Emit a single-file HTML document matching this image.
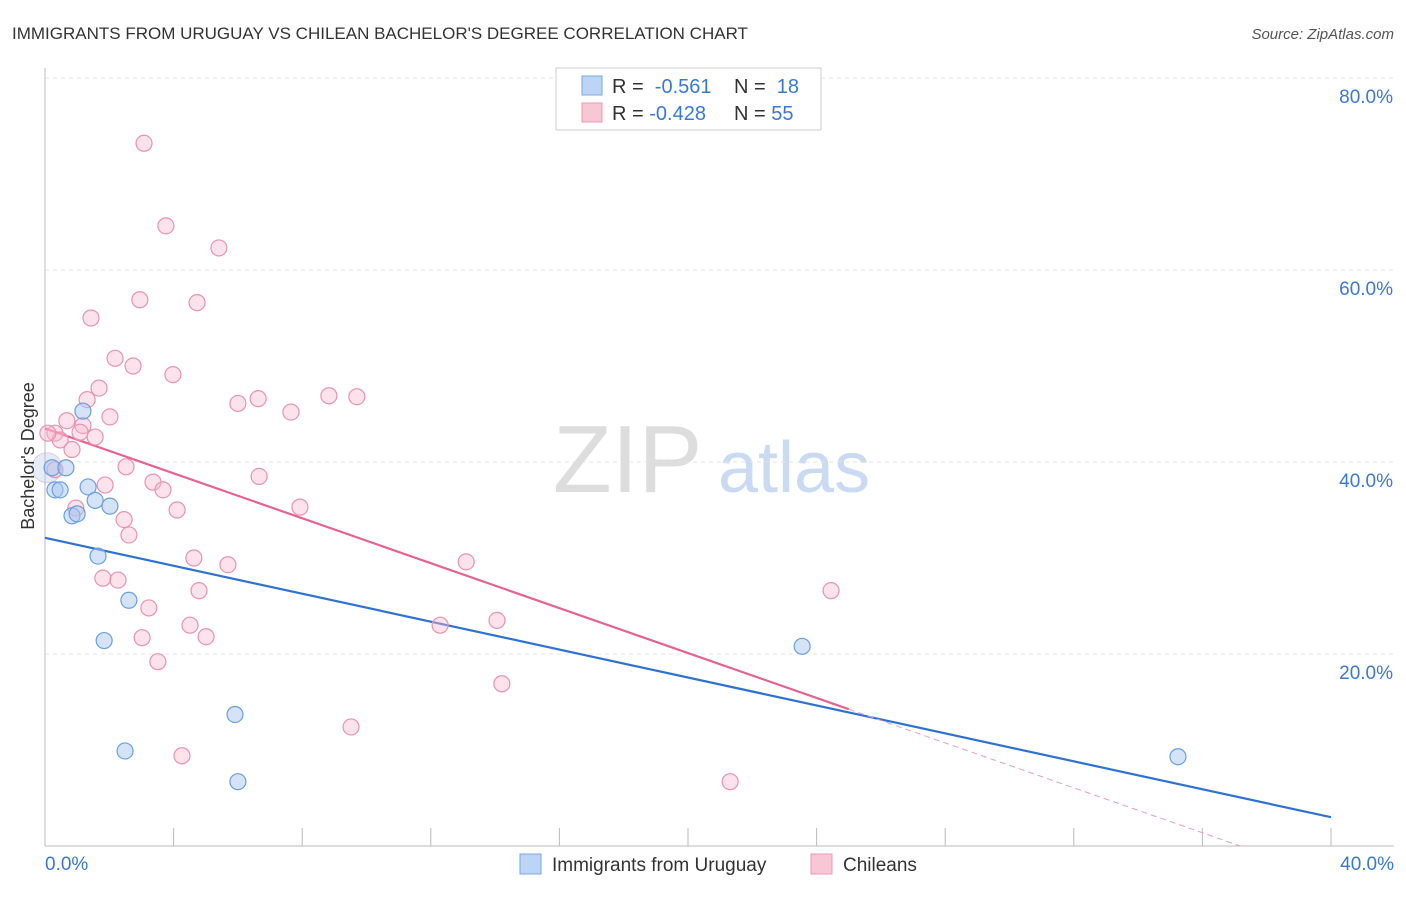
<!DOCTYPE html>
<html><head><meta charset="utf-8"><style>
body{margin:0;background:#fff;font-family:"Liberation Sans",sans-serif;}
svg text{font-family:"Liberation Sans",sans-serif;}
</style></head><body>
<svg id="chart" width="1406" height="892" viewBox="0 0 1406 892">
<text x="12" y="39" font-size="17" fill="#333">IMMIGRANTS FROM URUGUAY VS CHILEAN BACHELOR'S DEGREE CORRELATION CHART</text>
<text x="1394" y="39" font-size="15" fill="#555" text-anchor="end" font-style="italic">Source: ZipAtlas.com</text>
<g>
<text x="553" y="492" font-size="96" fill="#ddd" font-family="Liberation Serif,serif">ZIP</text>
<text x="718" y="492" font-size="72" fill="#c9daf2">atlas</text>
</g>
<g id="grid"></g>
<g id="axes"></g>
<g id="lines"></g>
<g id="points"></g>
<text transform="translate(34,456) rotate(-90)" font-size="18" fill="#333" text-anchor="middle">Bachelor's Degree</text>
<g>
<rect x="556" y="68" width="265" height="62" fill="#fff" stroke="#ccc"/>
<rect x="582" y="76" width="20" height="19" fill="#bcd4f5" stroke="#7aa6e3"/>
<rect x="582" y="103" width="20" height="19" fill="#f9c6d5" stroke="#ec9ab5"/>
<text x="612" y="93" font-size="20" fill="#333">R = <tspan fill="#3a78d8">&#160;-0.561</tspan></text>
<text x="734" y="93" font-size="20" fill="#333">N = <tspan fill="#3a78d8">&#160;18</tspan></text>
<text x="612" y="120" font-size="20" fill="#333">R = <tspan fill="#3a78d8">-0.428</tspan></text>
<text x="734" y="120" font-size="20" fill="#333">N = <tspan fill="#3a78d8">55</tspan></text>
</g>
<g>
<rect x="520" y="854" width="21" height="20" fill="#bcd4f5" stroke="#7aa6e3"/>
<text x="552" y="871" font-size="19" fill="#333">Immigrants from Uruguay</text>
<rect x="811" y="854" width="21" height="20" fill="#f9c6d5" stroke="#ec9ab5"/>
<text x="843" y="871" font-size="19" fill="#333">Chileans</text>
</g>
</svg>
<script>
const yTicks=[20,40,60,80];
const yTickLabels=["20.0%","40.0%","60.0%","80.0%"];
const xTickCount=10;
const xTickLabels=["0.0%","40.0%"];
const uruguayX=[0.22,0.65,0.31,0.47,1.18,1.34,1.56,2.02,0.84,1.0,1.65,1.84,2.61,2.49,5.91,6.0,23.55,35.24];
const uruguayY=[39.4,39.4,37.1,37.1,45.3,37.4,36.0,35.4,34.4,34.6,30.2,21.4,25.6,9.9,13.7,6.7,20.8,9.3];
const chileX=[3.08,3.76,5.41,2.95,4.73,1.43,2.18,2.74,3.98,1.68,1.31,2.02,6.0,6.63,7.65,8.83,9.7,0.68,0.31,0.47,1.18,1.09,1.56,0.84,2.52,6.66,0.31,3.36,3.67,1.87,4.11,7.93,0.96,2.46,2.61,4.63,5.69,13.1,1.8,2.27,4.79,24.45,3.23,4.51,3.02,5.01,12.29,14.06,3.51,14.21,9.52,4.26,21.31,0.09];
const chileY=[73.2,64.6,62.3,56.9,56.6,55.0,50.8,50.0,49.1,47.7,46.5,44.7,46.1,46.6,45.2,46.9,46.8,44.3,43.0,42.3,43.8,43.1,42.6,41.3,39.5,38.5,39.2,37.9,37.1,37.6,35.0,35.3,35.2,34.0,32.4,30.0,29.3,29.6,27.9,27.7,26.6,26.6,24.8,23.0,21.7,21.8,23.0,23.5,19.2,16.9,12.4,9.4,6.7,43.0];
const uruguayTrend=[32.1,-0.7275];
const chileTrend=[43.5,-1.17];
const chileSolidEnd=25.0;
const NS="http://www.w3.org/2000/svg";
const X=v=>45+v/40*1286;
const Y=v=>846-v*9.6;
function mk(tag,parent,attrs){const e=document.createElementNS(NS,tag);for(const k in attrs)e.setAttribute(k,attrs[k]);document.getElementById(parent).appendChild(e);return e;}
yTicks.forEach((t,i)=>{
 let l=mk('line','grid',{x1:45,x2:1394,y1:Y(t),y2:Y(t),stroke:'#e4e4e4','stroke-dasharray':'4,4'});
 
 
 let tx=mk('text','grid',{x:1393,y:Y(t)+25,'font-size':19,fill:'#3a78d8','text-anchor':'end'});
 tx.textContent=yTickLabels[i];
 
 
});
let ax=mk('line','axes',{x1:45,x2:1394,y1:846,y2:846,stroke:'#bbb'});


let ay=mk('line','axes',{x1:45,x2:45,y1:68,y2:846,stroke:'#bbb'});


for(let i=1;i<=xTickCount;i++){
 let t=mk('line','axes',{x1:X(i*4),x2:X(i*4),y1:828,y2:846,stroke:'#bbb'});
 
 
}
let xl0=mk('text','axes',{x:45,y:870,'font-size':19,fill:'#3a78d8'});xl0.textContent=xTickLabels[0];


let xl1=mk('text','axes',{x:1394,y:870,'font-size':19,fill:'#3a78d8','text-anchor':'end'});xl1.textContent=xTickLabels[1];


let bl=mk('line','lines',{x1:X(0),y1:Y(uruguayTrend[0]),x2:X(40),y2:Y(uruguayTrend[0]+40*uruguayTrend[1]),stroke:'#2f72d6','stroke-width':2.2});


let pl=mk('line','lines',{x1:X(0),y1:Y(chileTrend[0]),x2:X(chileSolidEnd),y2:Y(chileTrend[0]+chileSolidEnd*chileTrend[1]),stroke:'#e8628f','stroke-width':2.2});


const zeroX=-chileTrend[0]/chileTrend[1];
let pd=mk('line','lines',{x1:X(chileSolidEnd),y1:Y(chileTrend[0]+chileSolidEnd*chileTrend[1]),x2:X(zeroX),y2:Y(0),stroke:'#e8a0b8','stroke-width':1,'stroke-dasharray':'6,4'});


let big=mk('circle','points',{cx:X(0.06),cy:Y(39.4),r:15,fill:'rgba(180,200,235,0.35)',stroke:'rgba(200,170,200,0.5)'});


chileX.forEach((x,i)=>{
 let c=mk('circle','points',{cx:X(x),cy:Y(chileY[i]),r:8,fill:'rgba(247,185,204,0.4)',stroke:'#ea92b0','stroke-width':1.2});
 
 
});
uruguayX.forEach((x,i)=>{
 let c=mk('circle','points',{cx:X(x),cy:Y(uruguayY[i]),r:8,fill:'rgba(169,200,240,0.5)',stroke:'#6a9fe0','stroke-width':1.2});
 
 
});
</script>
</body></html>
